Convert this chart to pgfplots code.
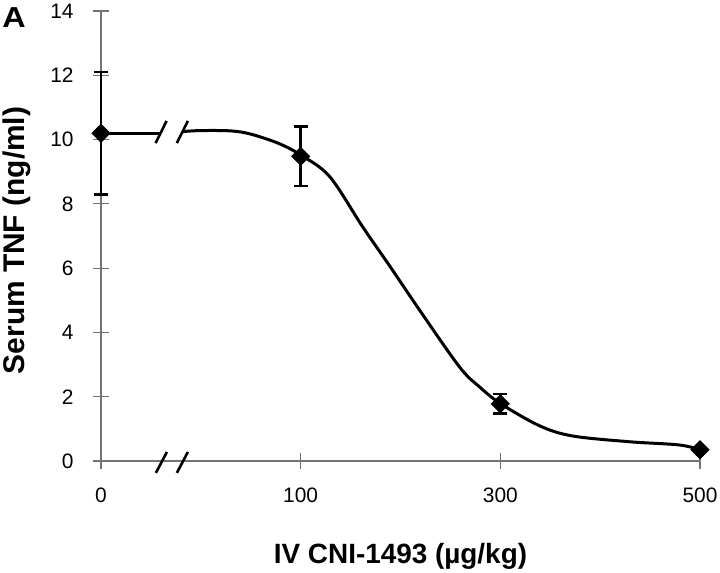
\documentclass[border=0pt]{standalone}
\usepackage{pgfplots}
\pgfplotsset{compat=1.18}
\usepackage{graphicx}
\usepackage{fontspec}
\setmainfont{Liberation Sans}
\begin{document}
\begin{tikzpicture}
\begin{axis}[
  scale only axis, width=299.5bp, height=225bp,
  at={(0,0)}, anchor=south west,
  xmin=-100, xmax=500, ymin=0, ymax=14,
  axis x line=bottom, axis y line=left,
  axis line style={-, black!55, line width=0.6bp},
  xtick={-100,100,300,500}, xticklabels={0,100,300,500},
  ytick={0,2,4,6,8,10,12,14},
  tick align=center, major tick length=8bp,
  tick style={black!55, line width=0.6bp},
  /pgf/number format/assume math mode=true,
  ticklabel style={font=\fontsize{10.5}{12}\selectfont},
  xticklabel style={inner sep=0pt, anchor=north, yshift=-9bp},
  yticklabel style={inner sep=0pt, anchor=east, xshift=-9.5bp},
  xlabel={IV CNI-1493 (µg/kg)},
  ylabel={Serum TNF (ng/ml)},
  label style={inner sep=0pt},
  xlabel style={font=\bfseries\fontsize{14}{16}\selectfont, at={(axis description cs:0.5,-0.22667)}, anchor=base},
  ylabel style={font=\bfseries\fontsize{15}{17}\selectfont, at={(axis description cs:-0.12688,0.49)}, anchor=base, rotate=0},
  clip=false,
]
% left segment before the break
\addplot[black, line width=1.5bp, no marks] coordinates {(-100,10.2) (-39.5,10.2)};
% fitted curve after the break
\addplot[black, line width=1.5bp, no marks, smooth, tension=0.55] coordinates {
  (-18,10.25) (0,10.28) (30,10.27) (50,10.17) (78,9.88) (100,9.52) (129,8.85)
  (162,7.29) (190,6.03) (219,4.70) (259,2.93) (279,2.31) (300,1.79)
  (339,1.10) (372,0.78) (429,0.60) (479,0.50) (500,0.35)};
% data points with error bars
\addplot[black, only marks, mark=square*, mark size=3.2bp,
  mark options={rotate=45, fill=black},
  error bars/.cd, y dir=both, y explicit,
  error bar style={line width=1.3bp, black},
  error mark options={rotate=90, line width=1.3bp, mark size=3.5bp, black}]
  coordinates {
  (-100,10.2) +- (0,1.9)
  (100,9.48) +- (0,0.92)
  (300,1.78) +- (0,0.31)
  (500,0.35) +- (0,0)};
% break marks on the curve
\draw[black, line width=1.3bp] (axis cs:-45.3,9.89) -- (axis cs:-34.3,10.58);
\draw[black, line width=1.3bp] (axis cs:-24,9.89) -- (axis cs:-13,10.58);
% break marks on the x axis
\draw[black, line width=1.3bp] (axis cs:-45,-0.37) -- (axis cs:-34,0.28);
\draw[black, line width=1.3bp] (axis cs:-24,-0.37) -- (axis cs:-13,0.28);
\node[anchor=base west, inner sep=0pt, font=\bfseries\fontsize{14.5}{16}\selectfont]
  at (axis description cs:-0.1653,0.9644) {\scalebox{1.12}[1]{A}};
\end{axis}
\pgfresetboundingbox
\path[use as bounding box] (-50.5bp,-56bp) rectangle (309.5bp,230.5bp);
\end{tikzpicture}
\end{document}
